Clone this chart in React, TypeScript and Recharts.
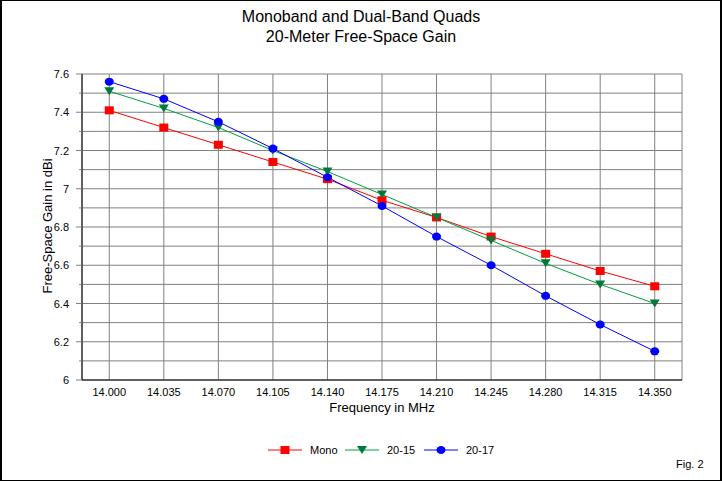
import { LineChart, Line, XAxis, YAxis, CartesianGrid } from 'recharts'

const FREQS = ['14.000', '14.035', '14.070', '14.105', '14.140', '14.175', '14.210', '14.245', '14.280', '14.315', '14.350']
const MONO = [7.41, 7.32, 7.23, 7.14, 7.05, 6.94, 6.85, 6.75, 6.66, 6.57, 6.49]
const DUAL_20_15 = [7.51, 7.42, 7.32, 7.2, 7.09, 6.97, 6.85, 6.73, 6.61, 6.5, 6.4]
const DUAL_20_17 = [7.56, 7.47, 7.35, 7.21, 7.06, 6.91, 6.75, 6.6, 6.44, 6.29, 6.15]
const Y_TICKS = [6, 6.1, 6.2, 6.3, 6.4, 6.5, 6.6, 6.7, 6.8, 6.9, 7, 7.1, 7.2, 7.3, 7.4, 7.5, 7.6]

const FONT = 'Arial, "Liberation Sans", sans-serif'
const RED = '#ff0000'
const GREEN = '#00a040'
const GREEN_DARK = '#007a3a'
const BLUE = '#0000ff'

const data = FREQS.map((f, i) => ({
  freq: f,
  mono: MONO[i],
  d1715: DUAL_20_15[i],
  d2017: DUAL_20_17[i],
}))

// markers
const Square = ({ cx, cy }: { cx: number; cy: number }) => (
  <rect x={cx - 4.5} y={cy - 4} width={9} height={8} fill={RED} />
)
const Tri = ({ cx, cy }: { cx: number; cy: number }) => (
  <polygon points={`${cx - 5},${cy - 4} ${cx + 5},${cy - 4} ${cx},${cy + 4}`} fill={GREEN_DARK} />
)
const Dot = ({ cx, cy }: { cx: number; cy: number }) => (
  <ellipse cx={cx} cy={cy} rx={4.5} ry={4} fill={BLUE} />
)

// eslint-disable-next-line @typescript-eslint/no-explicit-any
const YTick = (props: any) => {
  const { x, y, payload } = props
  const v: number = payload.value
  const major = Math.round(v * 10) % 2 === 0
  return (
    <g>
      <line x1={x + (major ? 6 : 9)} x2={x + 12} y1={y} y2={y} stroke="#808080" />
      {major && (
        <text x={x - 1} y={y} dy={4} textAnchor="end" fontSize={11} fontFamily={FONT} fill="#000">
          {String(Number(v.toFixed(1)))}
        </text>
      )}
    </g>
  )
}

// eslint-disable-next-line @typescript-eslint/no-explicit-any
const XTick = (props: any) => {
  const { x, y, payload } = props
  return (
    <text x={x} y={y} dy={8} textAnchor="middle" fontSize={11} fontFamily={FONT} fill="#000">
      {payload.value}
    </text>
  )
}

const LegendItem = ({ left, color, label, kind }: { left: number; color: string; label: string; kind: 'sq' | 'tri' | 'dot' }) => (
  <div style={{ position: 'absolute', left, top: 443, height: 14, display: 'flex', alignItems: 'center' }}>
    <svg width={34} height={14}>
      <line x1={0} x2={34} y1={7} y2={7} stroke={color} />
      {kind === 'sq' && <Square cx={17} cy={7} />}
      {kind === 'tri' && <Tri cx={17} cy={7} />}
      {kind === 'dot' && <Dot cx={17} cy={7} />}
    </svg>
    <span style={{ marginLeft: 8, fontSize: 11 }}>{label}</span>
  </div>
)

export default function App() {
  return (
    <div style={{ position: 'absolute', left: 0, top: 0, width: 722, height: 481, background: '#fff', fontFamily: FONT, color: '#000' }}>
      <div style={{ position: 'absolute', left: 0, top: 7, width: 722, textAlign: 'center', fontSize: 16, lineHeight: '20px' }}>
        Monoband and Dual-Band Quads
        <br />
        20-Meter Free-Space Gain
      </div>

      <LineChart width={722} height={481} data={data} margin={{ top: 74, right: 40, bottom: 71, left: 0 }}>
        <CartesianGrid stroke="#808080" strokeWidth={1} />
        <XAxis
          dataKey="freq"
          scale="band"
          height={30}
          axisLine={{ stroke: '#000' }}
          tickLine={false}
          tickSize={0}
          tickMargin={8}
          tick={XTick}
          interval={0}
        />
        <XAxis xAxisId="top" dataKey="freq" scale="band" orientation="top" height={0} tick={false} tickLine={false} axisLine={{ stroke: '#000' }} />
        <YAxis
          width={82}
          domain={[6, 7.6]}
          ticks={Y_TICKS}
          interval={0}
          axisLine={{ stroke: '#000' }}
          tickLine={false}
          tickSize={6}
          tickMargin={6}
          tick={YTick}
        />
        <YAxis yAxisId="right" orientation="right" width={0} domain={[6, 7.6]} tick={false} tickLine={false} axisLine={{ stroke: '#000' }} />
        <Line
          dataKey="mono"
          stroke={RED}
          strokeWidth={1}
          isAnimationActive={false}
          // eslint-disable-next-line @typescript-eslint/no-explicit-any
          dot={(p: any) => <Square key={p.index} cx={p.cx} cy={p.cy} />}
        />
        <Line
          dataKey="d1715"
          stroke={GREEN}
          strokeWidth={1}
          isAnimationActive={false}
          // eslint-disable-next-line @typescript-eslint/no-explicit-any
          dot={(p: any) => <Tri key={p.index} cx={p.cx} cy={p.cy} />}
        />
        <Line
          dataKey="d2017"
          stroke={BLUE}
          strokeWidth={1}
          isAnimationActive={false}
          // eslint-disable-next-line @typescript-eslint/no-explicit-any
          dot={(p: any) => <Dot key={p.index} cx={p.cx} cy={p.cy} />}
        />
      </LineChart>

      <div
        style={{
          position: 'absolute', left: 47, top: 226, fontSize: 13, whiteSpace: 'nowrap',
          transform: 'translate(-50%, -50%) rotate(-90deg)',
        }}
      >
        Free-Space Gain in dBi
      </div>
      <div style={{ position: 'absolute', left: 382, top: 400, fontSize: 13, transform: 'translateX(-50%)', whiteSpace: 'nowrap' }}>
        Frequency in MHz
      </div>

      <LegendItem left={268} color={RED} label="Mono" kind="sq" />
      <LegendItem left={345} color={GREEN} label="20-15" kind="tri" />
      <LegendItem left={424} color={BLUE} label="20-17" kind="dot" />

      <div style={{ position: 'absolute', left: 676, top: 458, fontSize: 11 }}>Fig. 2</div>

      <div
        style={{
          position: 'absolute', left: 0, top: 0, width: 722, height: 481, boxSizing: 'border-box',
          borderStyle: 'solid', borderColor: '#000', borderWidth: '1px 2px 1px 2px', pointerEvents: 'none',
        }}
      />
    </div>
  )
}
